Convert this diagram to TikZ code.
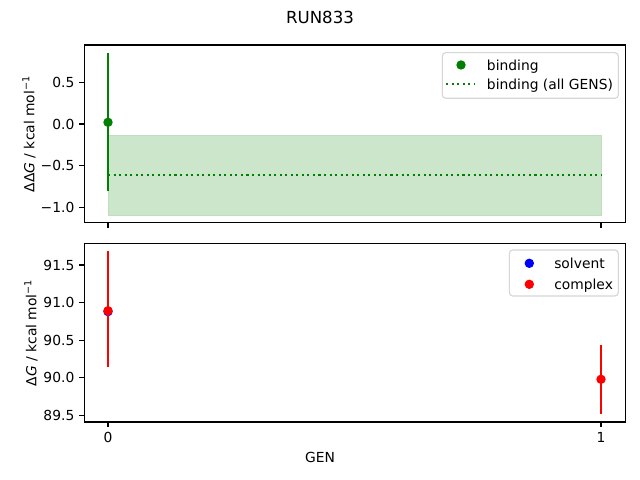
\documentclass[tikz,border=0pt]{standalone}
\usepackage{fontspec}
\setmainfont{DejaVu Sans}
\definecolor{mplgreen}{RGB}{0,128,0}
\definecolor{fillgreen}{RGB}{204,230,204}
\definecolor{filledge}{RGB}{190,222,190}
\definecolor{legendgray}{RGB}{204,204,204}
\def\lbl{\fontsize{10}{12}\selectfont}
\def\dd{Δ}
\tikzset{
  ax/.style={line width=0.8pt},
  tck/.style={line width=0.8pt},
  tlabel/.style={inner sep=0pt, font=\lbl, text height=7.3pt, text depth=0pt},
  errbar/.style={line width=1.5pt},
  legendbox/.style={draw=legendgray, fill=white, fill opacity=0.8, draw opacity=0.8, rounded corners=2.5pt, line width=0.8pt},
  allgens/.style={line width=1.5pt, dash pattern=on 1.5pt off 2.5pt},
}

\begin{document}
\begin{tikzpicture}[x=0.01in, y=-0.01in]
			%%%%% START %%%%%
			\useasboundingbox[fill=white] (0, 0) rectangle (640, 480);
			\node[font=\fontsize{12}{14}\selectfont] (title) at (320, 17) {RUN833};
			
			%% top panel: binding
			\draw[fill=fillgreen, draw=filledge] (108, 135) rectangle (601, 215);
			\draw[allgens, mplgreen] (108, 175) -- (601, 175);
			\draw[errbar, mplgreen] (108, 53.3) -- (108, 190.7);
			\fill[mplgreen] (108, 122.3) circle (3.4pt);
			
			\draw[ax] (84.3, 45) rectangle (625.7, 222.7);
			\foreach \yy/\txt in {82.33/0.5, 124/0.0, 165.67/−0.5, 207.33/−1.0} {
				\draw[tck] (84.3, \yy) -- ++(-4.86, 0);
				\node[tlabel, anchor=east] at (74.6, \yy) {\txt};
			}
			\foreach \xx in {108, 601}
				\draw[tck] (\xx, 222.7) -- ++(0, 4.86);
			\node[font=\lbl, rotate=90] (ylabtop) at (29, 134) {\dd\dd\textit{G} / kcal mol\textsuperscript{−1}};
			
			\draw[legendbox] (442.3, 52.7) rectangle (618.3, 98.3);
			\fill[mplgreen] (461, 65) circle (3.4pt);
			\draw[allgens, mplgreen] (446, 84.3) -- (475, 84.3);
			\node[tlabel, anchor=west] (legbind) at (486.7, 65) {binding};
			\node[tlabel, anchor=west] (legall) at (486.7, 84.3) {binding (all GENS)};
			
			%% bottom panel: solvent / complex
			\fill[blue] (108, 311.6) circle (3.4pt);
			\draw[errbar, red] (108, 251) -- (108, 367.3);
			\fill[red] (108, 310.7) circle (3.4pt);
			\draw[errbar, red] (601, 345) -- (601, 414);
			\fill[red] (601, 379.3) circle (3.4pt);
			
			\draw[ax] (84.3, 243.3) rectangle (625.7, 422);
			\foreach \yy/\txt in {265/91.5, 302.6/91.0, 340.2/90.5, 377.8/90.0, 415.4/89.5} {
				\draw[tck] (84.3, \yy) -- ++(-4.86, 0);
				\node[tlabel, anchor=east] at (74.6, \yy) {\txt};
			}
			\foreach \xx/\txt in {108/0, 601/1} {
				\draw[tck] (\xx, 422) -- ++(0, 4.86);
				\node[tlabel, anchor=north] at (\xx, 431.7) {\txt};
			}
			\node[font=\lbl, rotate=90] (ylabbot) at (31, 332.7) {\dd\textit{G} / kcal mol\textsuperscript{−1}};
			\node[font=\lbl] (xlab) at (320, 457) {GEN};
			
			\draw[legendbox] (509.3, 250) rectangle (618.3, 296);
			\fill[blue] (529.3, 263.3) circle (3.4pt);
			\fill[red] (529.3, 284.3) circle (3.4pt);
			\node[tlabel, anchor=west] (legsolv) at (554, 263.3) {solvent};
			\node[tlabel, anchor=west] (legcomp) at (554, 284.3) {complex};
			%%%%% END %%%%%
\end{tikzpicture}
\end{document}
